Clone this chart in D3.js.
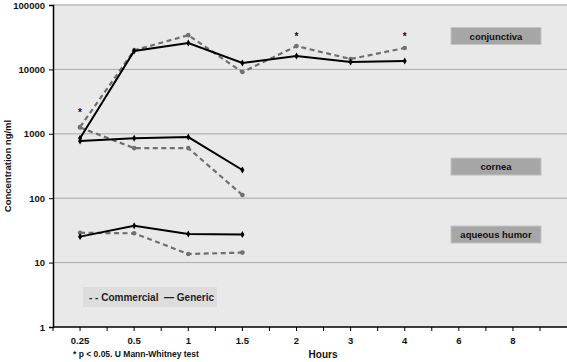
<!DOCTYPE html>
<html>
<head>
<meta charset="utf-8">
<script src="https://cdn.jsdelivr.net/npm/d3@7"></script>
<style>
  body { margin: 0; background: #fff; }
  text { font-family: "Liberation Sans", Arial, sans-serif; font-weight: bold; }
</style>
</head>
<body>
<div id="chart"></div>
<script>
// categories on the x axis (hours)
const hours = ["0.25", "0.5", "1", "1.5", "2", "3", "4", "6", "8"];
const yTicks = [1, 10, 100, 1000, 10000, 100000];

// series values (ng/ml)
const conjGeneric = [855, 19300, 25700, 12600, 16100, 13000, 13500];
const conjCommercial = [1275, 19800, 34000, 9100, 23000, 14500, 21500];
const corneaGeneric = [773, 855, 890, 274];
const corneaCommercial = [1250, 600, 600, 112];
const aqueousGeneric = [25.3, 37.4, 27.8, 27.3];
const aqueousCommercial = [29, 28.5, 13.6, 14.3];

// significance marks
const starHours = ["0.25", "2", "4"];
const starValues = [2300, 34000, 34000];

const tissueLabels = ["conjunctiva", "cornea", "aqueous humor"];
const tissueLabelValues = [33000, 310, 27.3];

const W = 567, H = 362;
const margin = { top: 5, right: 0, bottom: 35, left: 53 };

const svg = d3.select("#chart").append("svg")
  .attr("width", W)
  .attr("height", H);

const x = d3.scaleBand()
  .domain(hours)
  .range([margin.left, 540])
  .padding(0);
const xc = d => x(d) + x.bandwidth() / 2;

const y = d3.scaleLog()
  .domain([1, 100000])
  .range([H - margin.bottom, margin.top]);

// plot background
svg.append("rect")
  .attr("x", margin.left)
  .attr("y", margin.top)
  .attr("width", W - margin.left)
  .attr("height", y(1) - y(100000))
  .attr("fill", "#e9e9e9");

// gridlines
svg.append("g")
  .selectAll("line")
  .data([10, 100, 1000, 10000])
  .join("line")
  .attr("x1", margin.left)
  .attr("x2", W)
  .attr("y1", d => y(d))
  .attr("y2", d => y(d))
  .attr("stroke", "#a9a9a9")
  .attr("stroke-width", 1);

svg.append("line")
  .attr("x1", margin.left)
  .attr("x2", W)
  .attr("y1", y(100000))
  .attr("y2", y(100000))
  .attr("stroke", "#c9c9c9")
  .attr("stroke-width", 2);

// y axis
const yAxis = d3.axisLeft(y)
  .tickValues(yTicks)
  .tickFormat(d3.format("d"))
  .tickSize(4)
  .tickPadding(4);

const yg = svg.append("g")
  .attr("transform", `translate(${margin.left},0)`)
  .call(yAxis);
yg.select(".domain").attr("stroke", "#000").attr("stroke-width", 1.5);
yg.selectAll("text").attr("font-size", 9.5).attr("fill", "#111")
  .style("font-family", "Liberation Sans, Arial, sans-serif").style("font-weight", "bold");

// x axis: ticks at band edges and centres
const xTickPos = [];
hours.forEach(h => { xTickPos.push(x(h)); xTickPos.push(xc(h)); });
xTickPos.push(x(hours[hours.length - 1]) + x.bandwidth());

svg.append("line")
  .attr("x1", margin.left)
  .attr("x2", W)
  .attr("y1", y(1))
  .attr("y2", y(1))
  .attr("stroke", "#000")
  .attr("stroke-width", 1.5);

svg.append("g")
  .selectAll("line")
  .data(xTickPos)
  .join("line")
  .attr("x1", d => d)
  .attr("x2", d => d)
  .attr("y1", y(1))
  .attr("y2", y(1) + 4)
  .attr("stroke", "#000");

svg.append("g")
  .selectAll("text")
  .data(hours)
  .join("text")
  .attr("x", d => xc(d))
  .attr("y", y(1) + 17)
  .attr("text-anchor", "middle")
  .attr("font-size", 9.5)
  .attr("fill", "#111")
  .text(d => d);

// axis titles
svg.append("text")
  .attr("transform", `translate(11,${(y(1) + y(100000)) / 2}) rotate(-90)`)
  .attr("text-anchor", "middle")
  .attr("font-size", 9.5)
  .attr("fill", "#111")
  .text("Concentration ng/ml");

svg.append("text")
  .attr("x", 323)
  .attr("y", 358)
  .attr("text-anchor", "middle")
  .attr("font-size", 10)
  .attr("fill", "#111")
  .text("Hours");

svg.append("text")
  .attr("x", 73)
  .attr("y", 357)
  .attr("font-size", 8.5)
  .attr("fill", "#111")
  .text("* p < 0.05. U Mann-Whitney test");

// series
const line = d3.line()
  .x(d => xc(d.h))
  .y(d => y(d.v));

const toPts = vals => vals.map((v, i) => ({ h: hours[i], v: v }));

const series = [
  { values: conjCommercial, type: "commercial" },
  { values: corneaCommercial, type: "commercial" },
  { values: aqueousCommercial, type: "commercial" },
  { values: conjGeneric, type: "generic" },
  { values: corneaGeneric, type: "generic" },
  { values: aqueousGeneric, type: "generic" }
];

series.forEach(s => {
  const pts = toPts(s.values);
  const isC = s.type === "commercial";
  svg.append("path")
    .datum(pts)
    .attr("d", line)
    .attr("fill", "none")
    .attr("stroke", isC ? "#707070" : "#000")
    .attr("stroke-width", isC ? 2.2 : 2)
    .attr("stroke-dasharray", isC ? "5,3.5" : null);

  if (isC) {
    svg.append("g")
      .selectAll("circle")
      .data(pts)
      .join("circle")
      .attr("cx", d => xc(d.h))
      .attr("cy", d => y(d.v))
      .attr("r", 2.3)
      .attr("fill", "#707070");
  } else {
    svg.append("g")
      .selectAll("path")
      .data(pts)
      .join("path")
      .attr("d", d3.symbol(d3.symbolDiamond, 14))
      .attr("transform", d => `translate(${xc(d.h)},${y(d.v)})`)
      .attr("fill", "#000");
  }
});

// stars
svg.append("g")
  .selectAll("text")
  .data(starHours)
  .join("text")
  .attr("x", d => xc(d))
  .attr("y", (d, i) => y(starValues[i]) + 5)
  .attr("text-anchor", "middle")
  .attr("font-size", 10)
  .attr("fill", "#111")
  .text("*");

// tissue labels
const lbl = svg.append("g")
  .selectAll("g")
  .data(tissueLabels)
  .join("g")
  .attr("transform", (d, i) => `translate(451,${y(tissueLabelValues[i]) - 8.5})`);

lbl.append("rect")
  .attr("width", 90)
  .attr("height", 17)
  .attr("fill", "#a6a6a6")
  .attr("stroke", "#c4c4c4")
  .attr("stroke-width", 1);

lbl.append("text")
  .attr("x", 45)
  .attr("y", 12)
  .attr("text-anchor", "middle")
  .attr("font-size", 9.5)
  .attr("fill", "#111")
  .text(d => d);

// legend
svg.append("rect")
  .attr("x", 83)
  .attr("y", 287)
  .attr("width", 134)
  .attr("height", 20)
  .attr("fill", "#dddddd");

svg.append("text")
  .attr("x", 89)
  .attr("y", 301)
  .attr("font-size", 10)
  .attr("fill", "#222")
  .attr("xml:space", "preserve")
  .text("- - Commercial  \u2014 Generic");
</script>
</body>
</html>
